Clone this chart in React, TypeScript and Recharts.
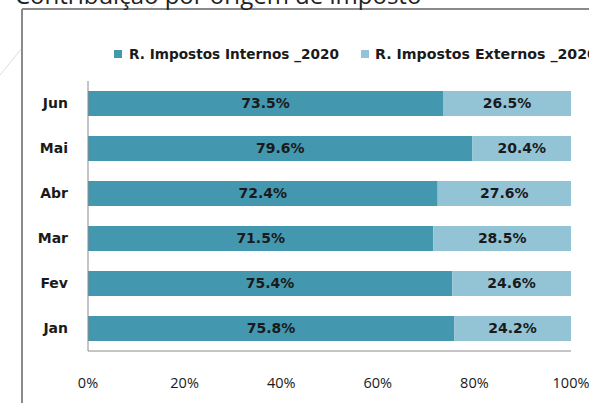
import React from "react";
import { BarChart, Bar, XAxis, YAxis, Legend, LabelList } from "recharts";

const months = ["Jun", "Mai", "Abr", "Mar", "Fev", "Jan"];
const internos = [73.5, 79.6, 72.4, 71.5, 75.4, 75.8];
const externos = [26.5, 20.4, 27.6, 28.5, 24.6, 24.2];
const xTicks = [0, 20, 40, 60, 80, 100];
const seriesNames = ["R. Impostos Internos _2020", "R. Impostos Externos _2020"];
const title = "Contribuição por origem de imposto";

const DARK = "#4397AE";
const LIGHT = "#93C4D6";
const FONT = "'Open Sans', 'Noto Sans', sans-serif";
const BOLD_FONT = "'DejaVu Sans', 'Open Sans', sans-serif";

const data = months.map((m, i) => ({ month: m, internos: internos[i], externos: externos[i] }));

const LegendContent = () => (
  <svg width={480} height={20} style={{ overflow: "visible", display: "block" }}>
    <rect x={0} y={5} width={8} height={8} fill={DARK} />
    <text x={15} y={14} fontFamily={BOLD_FONT} fontWeight={700} fontSize={13.6} fill="#1a1a1a" textLength={210} lengthAdjust="spacingAndGlyphs">
      {seriesNames[0]}
    </text>
    <rect x={247} y={5} width={8} height={8} fill={LIGHT} />
    <text x={261} y={14} fontFamily={BOLD_FONT} fontWeight={700} fontSize={13.6} fill="#1a1a1a" textLength={222} lengthAdjust="spacingAndGlyphs">
      {seriesNames[1]}
    </text>
  </svg>
);

const fmt = (v: any) => `${Number(v).toFixed(1)}%`;

export default function App() {
  return (
    <div style={{ position: "fixed", left: 0, top: 0, width: 589, height: 403, overflow: "hidden", background: "#fff" }}>
      <svg width={589} height={403} style={{ position: "absolute", left: 0, top: 0 }}>
        <line x1={0} y1={75} x2={22} y2={48} stroke="#d8dde3" strokeWidth={1} />
        <line x1={150} y1={9} x2={158} y2={0} stroke="#cfe3f3" strokeWidth={1} />
        <line x1={248} y1={0} x2={257} y2={9} stroke="#cfe3f3" strokeWidth={1} />
        <line x1={22} y1={9} x2={589} y2={9} stroke="#8a8a8a" strokeWidth={2} />
        <line x1={22} y1={9} x2={22} y2={403} stroke="#8a8a8a" strokeWidth={2} />
        <text x={15} y={4} fontFamily={FONT} fontSize={24} fill="#222">{title}</text>
      </svg>
      <div style={{ position: "absolute", left: 0, top: 0 }}>
        <BarChart
          width={589}
          height={403}
          data={data}
          layout="vertical"
          barSize={25}
          margin={{ top: 61, right: 18, bottom: 12, left: 0 }}
        >
          <Legend
            verticalAlign="top"
            height={20}
            content={<LegendContent />}
            wrapperStyle={{ position: "absolute", top: 45, left: 114, width: 480, height: 20 }}
          />
          <XAxis
            type="number"
            domain={[0, 100]}
            ticks={xTicks}
            tickFormatter={(v) => `${v}%`}
            axisLine={{ stroke: "#8c8c8c" }}
            tickLine={false}
            tickSize={0}
            tickMargin={27}
            height={40}
            interval={0}
            tick={{ fill: "#1a1a1a", fontSize: 14.5, fontFamily: FONT }}
          />
          <YAxis
            type="category"
            dataKey="month"
            width={88}
            axisLine={{ stroke: "#8c8c8c" }}
            tickLine={false}
            tickSize={0}
            tickMargin={20}
            tick={{ fill: "#1a1a1a", fontSize: 14, fontFamily: BOLD_FONT, fontWeight: 700 }}
          />
          <Bar dataKey="internos" stackId="a" fill={DARK} isAnimationActive={false}>
            <LabelList dataKey="internos" position="center" formatter={fmt} fill="#1a1a1a" fontSize={14} fontWeight={700} fontFamily={BOLD_FONT} />
          </Bar>
          <Bar dataKey="externos" stackId="a" fill={LIGHT} isAnimationActive={false}>
            <LabelList dataKey="externos" position="center" formatter={fmt} fill="#1a1a1a" fontSize={14} fontWeight={700} fontFamily={BOLD_FONT} />
          </Bar>
        </BarChart>
      </div>
    </div>
  );
}
